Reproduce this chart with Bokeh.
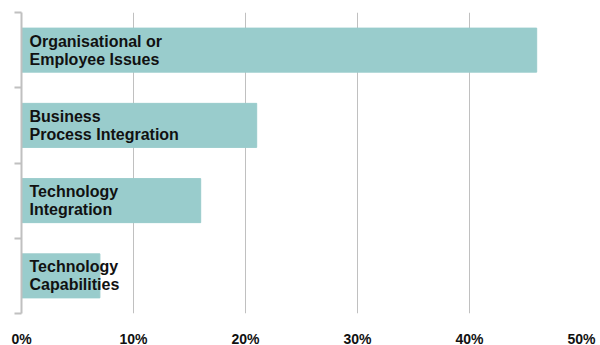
from bokeh.plotting import figure
from bokeh.models import Range1d, FixedTicker, ColumnDataSource
from bokeh.core.properties import value
from bokeh.embed import file_html
from bokeh.resources import INLINE

categories = ["Organisational or\nEmployee Issues",
              "Business\nProcess Integration",
              "Technology\nIntegration",
              "Technology\nCapabilities"]
percent = [46, 21, 16, 7]
x_ticks = [0, 10, 20, 30, 40, 50]
x_tick_labels = ["0%", "10%", "20%", "30%", "40%", "50%"]

n = len(categories)
ypos = [n - 1 - i for i in range(n)]
src = ColumnDataSource(dict(y=ypos, v=percent, label=categories, x0=[0] * n))

p = figure(frame_width=560, frame_height=301, output_backend="svg",
           toolbar_location=None, x_range=Range1d(0, 50),
           y_range=Range1d(-0.5, n - 0.5),
           min_border_left=21, min_border_right=16, min_border_top=12,
           min_border_bottom=0)
p.outline_line_color = None
p.background_fill_color = "white"
p.border_fill_color = "white"

p.hbar(y="y", right="v", left=0, height=0.585, color="#99cccc", source=src)
p.text(x="x0", y="y", text="label", source=src, x_offset=8,
       text_baseline="middle", text_align="left",
       text_font=value("Liberation Sans"), text_font_style="bold",
       text_font_size="16px", text_line_height=1.05, text_color="#111111")

p.xgrid.ticker = FixedTicker(ticks=x_ticks)
p.xgrid.grid_line_color = "#c0c0c0"
p.xgrid.grid_line_width = 1
p.ygrid.grid_line_color = None

xa = p.xaxis[0]
xa.ticker = FixedTicker(ticks=x_ticks)
xa.major_label_overrides = {t: l for t, l in zip(x_ticks, x_tick_labels)}
xa.axis_line_color = None
xa.major_tick_line_color = None
xa.minor_tick_line_color = None
xa.major_label_standoff = 11
xa.major_label_text_font = "Liberation Sans"
xa.major_label_text_font_style = "bold"
xa.major_label_text_font_size = "14px"
xa.major_label_text_color = "#111111"

ya = p.yaxis[0]
y_ticks = [i - 0.5 for i in range(n + 1)]
ya.ticker = FixedTicker(ticks=y_ticks)
ya.major_label_overrides = {t: "" for t in y_ticks}
ya.axis_line_color = "#c0c0c0"
ya.axis_line_width = 2
ya.major_tick_line_color = "#c0c0c0"
ya.major_tick_line_width = 2
ya.major_tick_out = 7
ya.major_tick_in = 0
ya.minor_tick_line_color = None
ya.major_label_standoff = 0

open("out.html", "w").write(file_html(p, INLINE))
